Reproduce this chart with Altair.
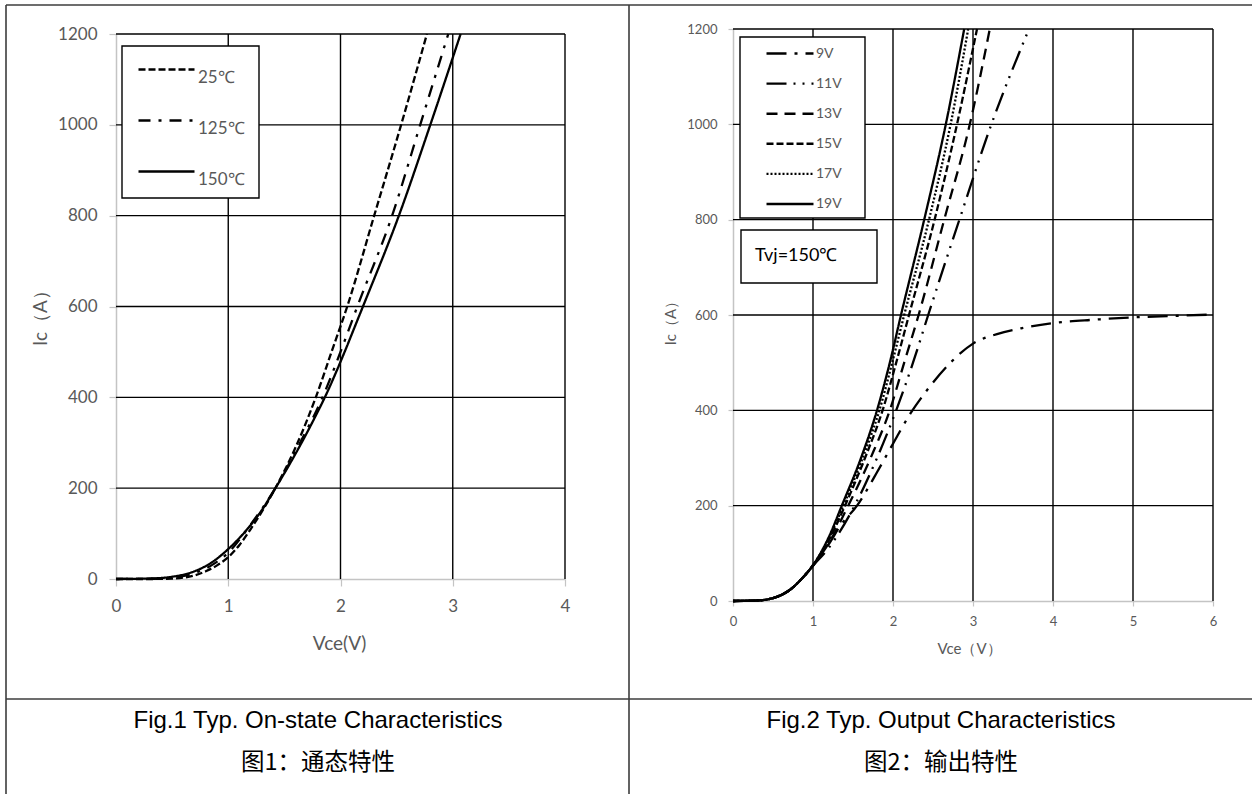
import altair as alt
import pandas as pd

# ---------------- data ----------------
left_series = ["25℃", "125℃", "150℃"]
v_25 = [0, 0.3, 0.5, 0.6, 0.7, 0.8, 0.9, 1.0, 1.1, 1.2, 1.42, 1.6, 1.78, 1.92, 2.06, 2.30, 2.54, 2.77]
i_25 = [0, 0, 1, 3, 8, 17, 30, 48, 75, 110, 200, 290, 400, 500, 600, 800, 1000, 1200]
v_125 = [0, 0.3, 0.5, 0.7, 0.85, 1.0, 1.2, 1.42, 1.64, 1.84, 2.0, 2.15, 2.46, 2.71, 2.96]
i_125 = [0, 0.5, 3, 13, 30, 58, 120, 200, 300, 400, 500, 600, 800, 1000, 1200]
v_150 = [0, 0.3, 0.5, 0.7, 0.85, 1.0, 1.17, 1.3, 1.42, 1.54, 1.66, 1.77, 1.87, 1.96, 2.04, 2.12, 2.20, 2.52, 2.80, 3.07]
i_150 = [0, 1, 5, 17, 36, 66, 110, 152, 200, 250, 303, 355, 405, 455, 502, 551, 600, 800, 1000, 1200]

right_series = ["9V", "11V", "13V", "15V", "17V", "19V"]
v_9 = [0, 0.3, 0.5, 0.7, 0.85, 1.0, 1.2, 1.35, 1.55, 1.8, 2.0, 2.22, 2.41, 2.73, 3.0, 3.3, 3.6, 4.0, 4.5, 5.0, 5.5, 6.0]
i_9 = [0, 1, 6, 22, 45, 74, 120, 160, 200, 270, 330, 394, 439, 502, 540, 560, 572, 583, 590, 595, 598, 601]
v_11 = [0, 0.3, 0.5, 0.7, 0.85, 1.0, 1.2, 1.52, 1.80, 2.04, 2.25, 2.44, 2.83, 3.23, 3.70]
i_11 = [0, 1, 6, 22, 45, 74, 112, 200, 300, 400, 500, 600, 800, 1000, 1200]
v_13 = [0, 0.3, 0.5, 0.7, 0.85, 1.0, 1.2, 1.44, 1.72, 1.96, 2.14, 2.32, 2.64, 2.96, 3.21]
i_13 = [0, 1, 6, 22, 45, 75, 122, 200, 300, 400, 500, 600, 800, 1000, 1200]
v_15 = [0, 0.3, 0.5, 0.7, 0.85, 1.0, 1.2, 1.40, 1.65, 1.87, 2.04, 2.20, 2.52, 2.80, 3.05]
i_15 = [0, 1, 6, 22, 45, 75, 128, 200, 300, 400, 500, 600, 800, 1000, 1200]
v_17 = [0, 0.3, 0.5, 0.7, 0.85, 1.0, 1.2, 1.38, 1.62, 1.83, 1.99, 2.14, 2.45, 2.72, 2.94]
i_17 = [0, 1, 6, 22, 45, 75, 132, 200, 300, 400, 500, 600, 800, 1000, 1200]
v_19 = [0, 0.3, 0.5, 0.7, 0.85, 1.0, 1.2, 1.36, 1.60, 1.80, 1.96, 2.10, 2.39, 2.66, 2.89]
i_19 = [0, 1, 6, 22, 45, 75, 135, 200, 300, 400, 500, 600, 800, 1000, 1200]

left_xticks = [0, 1, 2, 3, 4]
right_xticks = [0, 1, 2, 3, 4, 5, 6]
yticks = [0, 200, 400, 600, 800, 1000, 1200]

caption1_en = "Fig.1 Typ. On-state Characteristics"
caption1_zh = "图1：通态特性"
caption2_en = "Fig.2 Typ. Output Characteristics"
caption2_zh = "图2：输出特性"
annot_text = "Tvj=150℃"

# ---------------- styles ----------------
W, H = 1252, 794
GRAY = "#595959"
AXIS_GRAY = "#c4c4c4"
LINE_COLOR = "#3c3c3c"
TICK_FONT = "Lato"
CAP_FONT = "Liberation Sans"
CJK_FONT = "Noto Sans CJK SC"

left_dashes = [[7, 3], [12, 8, 3, 8], [1, 0]]
right_dashes = [[20, 8, 3, 8], [20, 7, 2, 7, 2, 7], [11, 7], [7, 3], [2, 2], [1, 0]]


def build_df(items):
    rows = []
    for name, vs, cs in items:
        for k, (v, c) in enumerate(zip(vs, cs)):
            rows.append({"series": name, "Vce": v, "Ic": c, "k": k})
    return pd.DataFrame(rows)


left_df = build_df([("25℃", v_25, i_25), ("125℃", v_125, i_125), ("150℃", v_150, i_150)])
right_df = build_df([("9V", v_9, i_9), ("11V", v_11, i_11), ("13V", v_13, i_13),
                     ("15V", v_15, i_15), ("17V", v_17, i_17), ("19V", v_19, i_19)])


def panel(df, series, dashes, xdom, xrange, yrange, xticks, st, legend):
    xs = alt.Scale(domain=xdom, range=xrange, nice=False, zero=False)
    ys = alt.Scale(domain=[0, 1200], range=yrange, nice=False, zero=False)
    xaxis = alt.Axis(orient="bottom", offset=yrange[0] - H, values=xticks, format="d",
                     title=st["xtitle"], grid=False,
                     domainColor=AXIS_GRAY, domainWidth=1.5, tickColor=AXIS_GRAY,
                     tickSize=st["tick"], tickWidth=1.2,
                     labelFont=TICK_FONT, labelFontSize=st["lab"], labelColor=GRAY,
                     labelPadding=st["xpad"], labelFlush=False, labelOverlap=False,
                     titleFont=TICK_FONT, titleFontSize=st["tfs"], titleColor=GRAY,
                     titleFontWeight="normal", titleX=st["xtx"], titleY=st["xty"],
                     titleBaseline="middle", titleAlign="center")
    yaxis = alt.Axis(orient="left", offset=-xrange[0], values=yticks, format="d",
                     title=st["ytitle"], grid=False,
                     domainColor=AXIS_GRAY, domainWidth=1.5, tickColor=AXIS_GRAY,
                     tickSize=st["tick"], tickWidth=1.2,
                     labelFont=TICK_FONT, labelFontSize=st["lab"], labelColor=GRAY,
                     labelPadding=st["ypad"], labelFlush=False, labelOverlap=False,
                     titleFont=TICK_FONT, titleFontSize=st["tfs"], titleColor=GRAY,
                     titleFontWeight="normal", titleX=st["ytx"], titleY=st["yty"],
                     titleBaseline="middle", titleAlign="center", titleAngle=270)
    vgrid_df = pd.DataFrame({"Vce": xticks[1:], "lo": 0, "hi": 1200})
    hgrid_df = pd.DataFrame({"Ic": yticks[1:], "lo": xdom[0], "hi": xdom[1]})
    vgrid = alt.Chart(vgrid_df).mark_rule(color="black", strokeWidth=1.4).encode(
        x=alt.X("Vce:Q", scale=xs, axis=xaxis),
        y=alt.Y("lo:Q", scale=ys, axis=yaxis),
        y2="hi:Q",
    )
    hgrid = alt.Chart(hgrid_df).mark_rule(color="black", strokeWidth=1.4).encode(
        y=alt.Y("Ic:Q", scale=ys, axis=yaxis),
        x=alt.X("lo:Q", scale=xs, axis=xaxis),
        x2="hi:Q",
    )
    lines = alt.Chart(df).mark_line(color="black", strokeWidth=2.3, interpolate="monotone").encode(
        x=alt.X("Vce:Q", scale=xs, axis=xaxis),
        y=alt.Y("Ic:Q", scale=ys, axis=yaxis),
        strokeDash=alt.StrokeDash("series:N", scale=alt.Scale(domain=series, range=dashes),
                                  legend=legend),
        order=alt.Order("k:Q"),
    )
    return alt.layer(vgrid, hgrid, lines)


left_legend = alt.Legend(orient="none", legendX=137, legendY=40, title=None,
                         symbolType="stroke", symbolSize=3136, symbolStrokeWidth=2.6,
                         symbolStrokeColor="black", labelFont=TICK_FONT, labelFontSize=17,
                         labelColor=GRAY, labelBaseline="top", labelOffset=2,
                         rowPadding=5, padding=0, zindex=1)
# custom stroke symbol twice as long as its nominal size -> compact rows
right_legend = alt.Legend(orient="none", legendX=777, legendY=40.5, title=None,
                          symbolType="M-2,0H2", symbolSize=552, symbolStrokeWidth=2.4,
                          symbolStrokeColor="black", symbolFillColor="transparent",
                          labelFont=TICK_FONT, labelFontSize=14,
                          labelColor=GRAY, labelBaseline="middle", labelOffset=13,
                          rowPadding=10.1, padding=0, zindex=1)

left_style = dict(xtitle="Vce(V)", ytitle="Ic（A）", tick=7, lab=17, xpad=12, ypad=12, tfs=19,
                  xtx=339, xty=64, ytx=-76, yty=313)
right_style = dict(xtitle="Vce（V）", ytitle="Ic（A）", tick=5, lab=13, xpad=9, ypad=11, tfs=15,
                   xtx=969, xty=47, ytx=-63, yty=319)

left = panel(left_df, left_series, left_dashes, [0, 4], [116, 565], [579, 34],
             left_xticks, left_style, left_legend)
right = panel(right_df, right_series, right_dashes, [0, 6], [733, 1213], [601, 29],
              right_xticks, right_style, right_legend)

# ---------------- decorations: table lines, boxes, captions ----------------
one = pd.DataFrame({"d": [0]})


def hline(x1, x2, y):
    return alt.Chart(one).mark_rule(color=LINE_COLOR, strokeWidth=1.6).encode(
        x=alt.value(x1), x2=alt.value(x2), y=alt.value(y))


def vline(x, y1, y2):
    return alt.Chart(one).mark_rule(color=LINE_COLOR, strokeWidth=1.6).encode(
        x=alt.value(x), y=alt.value(y1), y2=alt.value(y2))


def box(x1, x2, y1, y2):
    return alt.Chart(one).mark_rect(fill="white", stroke="black", strokeWidth=1.4).encode(
        x=alt.value(x1), x2=alt.value(x2), y=alt.value(y1), y2=alt.value(y2))


def label(txt, x, y, font, size, color, align="center", baseline="alphabetic"):
    return alt.Chart(one).mark_text(font=font, fontSize=size, color=color, align=align,
                                    baseline=baseline).encode(
        x=alt.value(x), y=alt.value(y), text=alt.value(txt))


deco_back = [hline(6, W, 5), hline(6, W, 699), vline(6, 5, H), vline(629, 5, H)]
deco_front = [
    box(122, 259, 46, 198),
    box(740, 865, 37, 218),
    box(741, 877, 230, 283),
    label(annot_text, 755, 256, TICK_FONT, 18, "black", align="left", baseline="middle"),
    label(caption1_en, 318, 728, CAP_FONT, 24, "black"),
    label(caption1_zh, 318, 770, CJK_FONT, 23.5, "black"),
    label(caption2_en, 941, 728, CAP_FONT, 24, "black"),
    label(caption2_zh, 941, 770, CJK_FONT, 23.5, "black"),
]

chart = alt.layer(*deco_back, left, right, *deco_front).resolve_scale(
    x="independent", y="independent", strokeDash="independent"
).properties(
    width=W, height=H, autosize=alt.AutoSizeParams(type="none"), padding=0
).configure_view(stroke=None)

chart.save("out.html", embed_options={"renderer": "svg", "actions": False})
